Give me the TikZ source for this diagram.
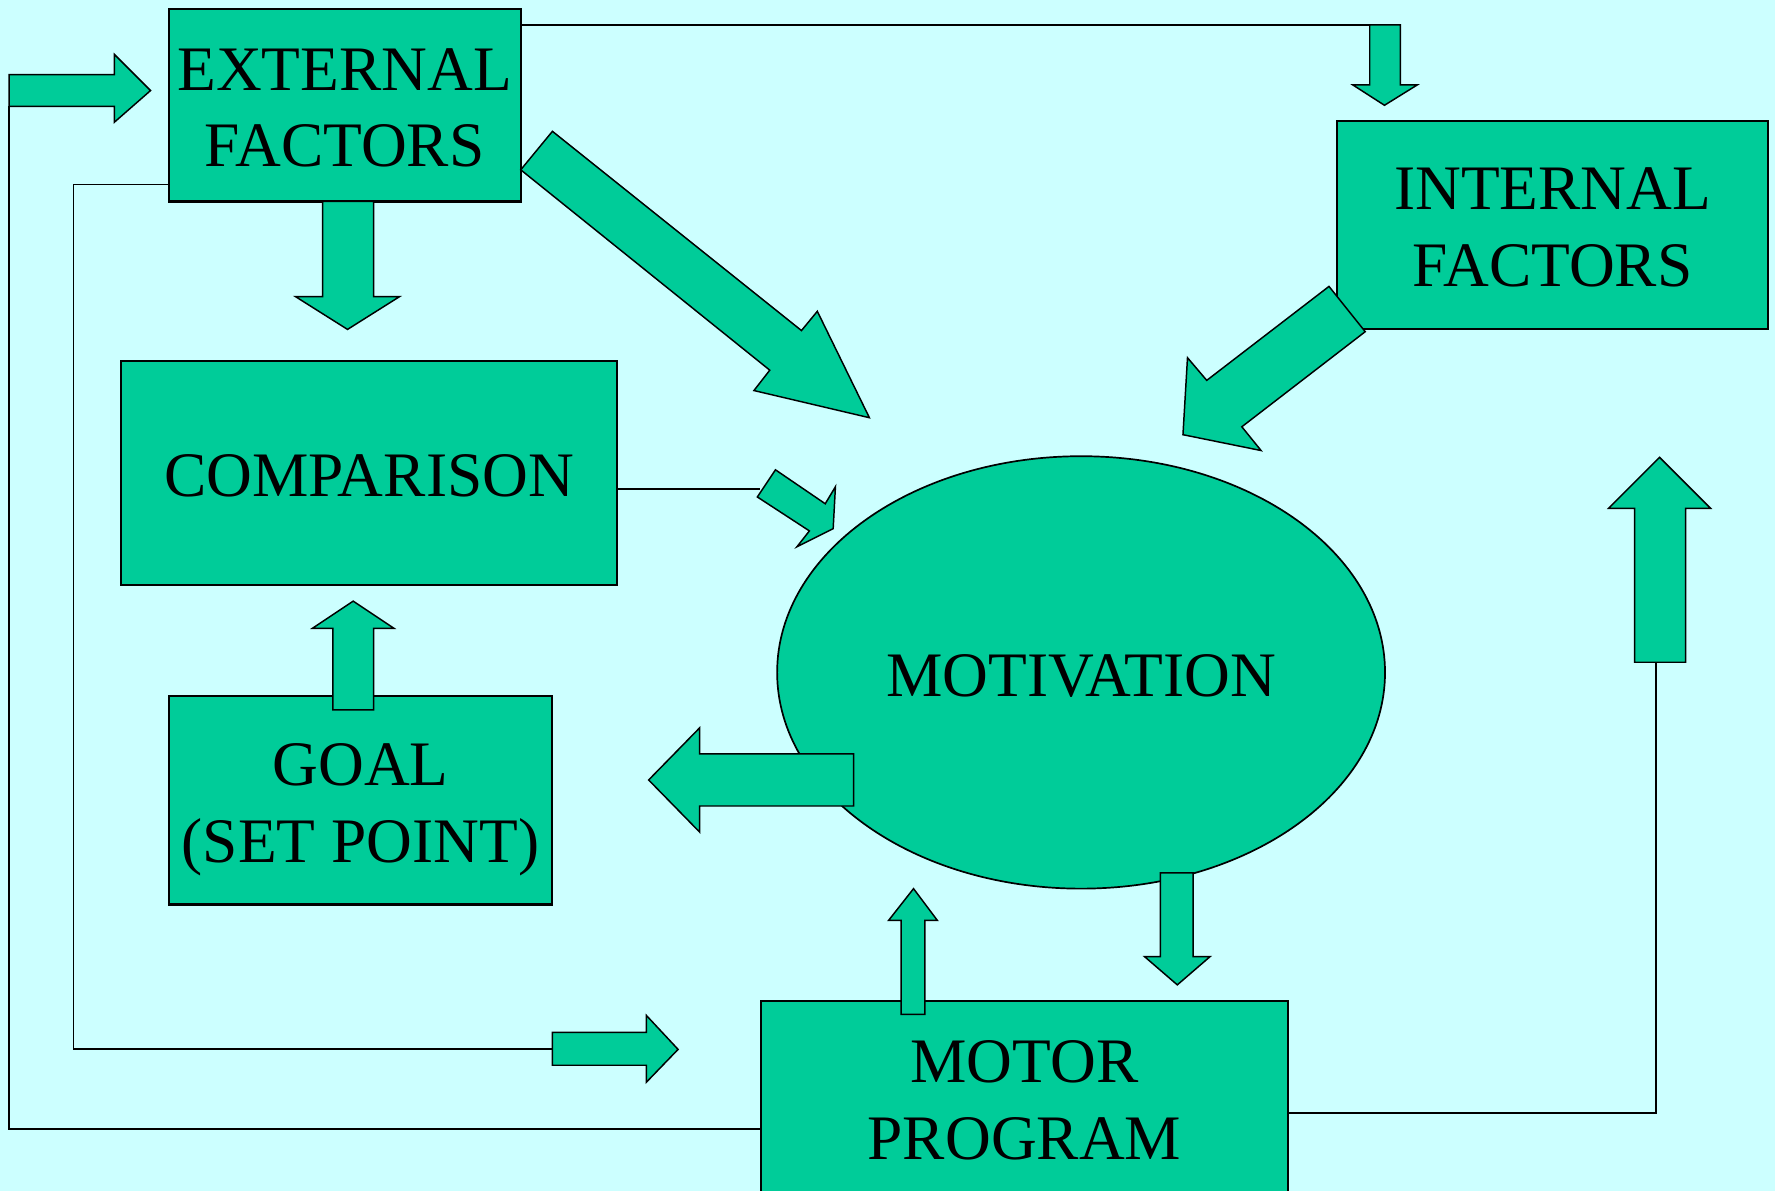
\documentclass[tikz,border=0pt]{standalone}
\usepackage{fontspec}
\setmainfont{Liberation Serif}
\usetikzlibrary{shapes.geometric}
\definecolor{bgc}{HTML}{CCFFFF}
\definecolor{fillc}{HTML}{00CC99}
\begin{document}
\begin{tikzpicture}[x=1pt,y=-1pt,
  box/.style={draw=black, line width=1.8pt, fill=fillc, inner sep=0pt, rectangle},
  oval/.style={draw=black, line width=1.5pt, fill=fillc, inner sep=0pt, ellipse},
  blk/.style={draw=black, line width=1.3pt, fill=fillc, line join=miter},
  conn/.style={draw=black, line width=1.6pt},
  lbl/.style={font=\fontsize{56}{67}\selectfont, anchor=base, inner sep=0pt}]
\fill[bgc] (0,0) rectangle (1568,1052);
\useasboundingbox (0,0) rectangle (1568,1052);
\clip (0,0) rectangle (1568,1052);

% boxes
\node[box, minimum width=311pt, minimum height=170pt] (ext) at (304.5,93) {};
\node[box, minimum width=381pt, minimum height=184pt] (int) at (1371.5,199) {};
\node[box, minimum width=438pt, minimum height=198pt] (cmp) at (326,418) {};
\node[box, minimum width=339pt, minimum height=184pt] (goal) at (318.5,707) {};
\node[oval, minimum width=537pt, minimum height=382pt] (mot) at (955,594) {};
\node[box, minimum width=466pt, minimum height=176pt] (motor) at (905,972) {};

% connector lines
\coordinate (topend) at (1237,22);
\coordinate (outerend) at (8,94);
\coordinate (innerend) at (488,927);
\coordinate (rightend) at (1463,585);
\coordinate (cmpend) at (671,432);
\draw[conn] (ext.east |- topend) -- (topend);
\draw[conn] (motor.west |- 0,997) -- (8,997) -- (outerend);
\draw[conn] (ext.west |- 0,163) -- (65,163) -- (65,927) -- (innerend);
\draw[conn] (motor.east |- 0,983) -- (1463,983) -- (rightend);
\draw[conn] (cmp.east |- cmpend) -- (cmpend);

% block arrows
% A: into external factors
\draw[blk] (8,66) -- (101,66) -- (101,48) -- (133,80) -- (101,108) -- (101,94) -- (8,94) -- cycle;
% B: to motor program
\draw[blk] (488,912) -- (571,912) -- (571,897) -- (599,927) -- (571,956) -- (571,941) -- (488,941) -- cycle;
% C: external -> comparison
\draw[blk] (285,178) -- (330,178) -- (330,262) -- (353,262) -- (307,291) -- (261,262) -- (285,262) -- cycle;
% D: external -> motivation
\draw[blk] (460,150) -- (488,116) -- (708,292) -- (722,275) -- (768,369) -- (666,345) -- (680,327) -- cycle;
% E: internal -> motivation
\draw[blk] (1174,253) -- (1206,293) -- (1097,377) -- (1114,398) -- (1045,384) -- (1049,316) -- (1066,336) -- cycle;
% F: top -> internal
\draw[blk] (1210,22) -- (1237,22) -- (1237,75) -- (1252,75) -- (1223,93) -- (1195,75) -- (1210,75) -- cycle;
% G: right -> internal
\draw[blk] (1444,585) -- (1489,585) -- (1489,449) -- (1511,449) -- (1466,404) -- (1421,449) -- (1444,449) -- cycle;
% H: comparison -> motivation
\draw[blk] (685,415) -- (729,445) -- (738,430) -- (736,467) -- (704,483) -- (715,469) -- (669,439) -- cycle;
% I: goal -> comparison
\draw[blk] (294,627) -- (330,627) -- (330,555) -- (348,555) -- (312,531) -- (276,555) -- (294,555) -- cycle;
% J: motivation -> goal
\draw[blk] (754,666) -- (754,712) -- (618,712) -- (618,735) -- (573,689) -- (618,643) -- (618,666) -- cycle;
% K: motor -> motivation
\draw[blk] (796,896) -- (817,896) -- (817,813) -- (828,813) -- (807,785) -- (785,813) -- (796,813) -- cycle;
% L: motivation -> motor
\draw[blk] (1025,771) -- (1054,771) -- (1054,845) -- (1069,845) -- (1040,870) -- (1011,845) -- (1025,845) -- cycle;

% labels
\node[lbl] (extA) at (304.5,80) {EXTERNAL};
\node[lbl] (extB) at (304.5,147) {FACTORS};
\node[lbl] (intA) at (1371.5,185.5) {INTERNAL};
\node[lbl] (intB) at (1371.5,253) {FACTORS};
\node[lbl] (cmpA) at (326,438.5) {COMPARISON};
\node[lbl] (goalA) at (318.5,694) {GOAL};
\node[lbl] (goalB) at (318.5,762) {(SET POINT)};
\node[lbl] (motA) at (955,615.5) {MOTIVATION};
\node[lbl] (motorA) at (905,956) {MOTOR};
\node[lbl] (motorB) at (905,1024) {PROGRAM};
\end{tikzpicture}
\end{document}
